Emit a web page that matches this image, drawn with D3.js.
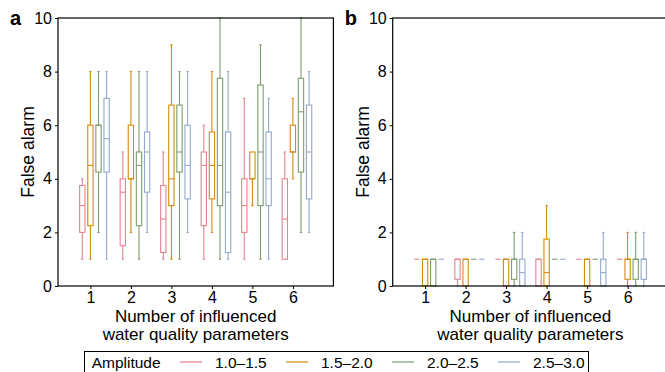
<!DOCTYPE html>
<html><head><meta charset="utf-8">
<script src="https://cdn.jsdelivr.net/npm/d3@7"></script>
<style>body{margin:0;background:#fff}svg{display:block;font-family:"Liberation Sans",Arial,sans-serif}</style>
</head><body>
<script>
// Categories and series
const categories = [1, 2, 3, 4, 5, 6];
const amplitudes = ["1.0–1.5", "1.5–2.0", "2.0–2.5", "2.5–3.0"];
const colors = ["#e3848f", "#d18b12", "#7d9c6b", "#92a9cb"];
const yTicks = [0, 2, 4, 6, 8, 10];
// Box stats per category: [whiskerLow, q1, median, q3, whiskerHigh]
// Panel a
const a_amp1 = [[1,2,3,3.75,4],[1,1.5,3.5,4,5],[1,1.25,2.5,3.75,5],[1,2.25,4.5,5,6],[1,2,3,4,7],[1,1,2.5,4,5]];
const a_amp2 = [[1,2.25,4.5,6,8],[2,4,4,6,8],[1,3,4,6.75,9],[2,3.25,4.5,5.75,8],[3,4,4,5,5],[4,5,5,6,7]];
const a_amp3 = [[2,4.25,6,6,8],[1,2.25,4.5,5,8],[1,4.25,5,6.75,8],[1,3,4.5,7.75,10],[1,3,5,7.5,9],[2,4.25,6.5,7.75,10]];
const a_amp4 = [[1,4.25,5.5,7,8],[2,3.5,5,5.75,8],[2,3.25,4.5,6,8],[1,1.25,3.5,5.75,8],[1,3,4,5.75,7],[2,3.25,5,6.75,8]];
// Panel b
const b_amp1 = [[1,1,1,1,1],[0,0.25,1,1,1],[1,1,1,1,1],[0,0,1,1,1],[1,1,1,1,1],[1,1,1,1,1]];
const b_amp2 = [[0,0,1,1,1],[0,0,1,1,1],[0,0,1,1,1],[0,0,0.5,1.75,3],[0,0,1,1,1],[0,0.25,1,1,2]];
const b_amp3 = [[0,0,1,1,1],[1,1,1,1,1],[0,0.25,1,1,2],[1,1,1,1,1],[1,1,1,1,1],[0,0.25,1,1,2]];
const b_amp4 = [[1,1,1,1,1],[1,1,1,1,1],[0,0,0.5,1,2],[1,1,1,1,1],[0,0,0.5,1,2],[0,0.25,1,1,2]];
const hueOffsets = [-0.2, 0, 0.2, 0.4];

const W = 665, H = 372;
const svg = d3.select("body").append("svg").attr("width", W).attr("height", H);

const y = d3.scaleLinear().domain([0, 10]).range([286, 18]);

function panel(left, series, letter) {
  const x = d3.scaleLinear().domain([0.2, 7.0]).range([left, left + 275.4]);
  const g = svg.append("g");
  const bw = 5.3;
  series.forEach((s, si) => {
    s.forEach((d, ci) => {
      const cx = x(categories[ci] + hueOffsets[si]);
      const col = colors[si];
      const [lo, q1, med, q3, hi] = d;
      const gg = g.append("g").attr("stroke", col).attr("stroke-width", 1.1).attr("fill", "none");
      if (hi > q3) {
        gg.append("line").attr("x1", cx).attr("x2", cx).attr("y1", y(q3)).attr("y2", y(hi));
        gg.append("line").attr("x1", cx - 1.2).attr("x2", cx + 1.2).attr("y1", y(hi)).attr("y2", y(hi));
      }
      if (lo < q1) {
        gg.append("line").attr("x1", cx).attr("x2", cx).attr("y1", y(q1)).attr("y2", y(lo));
        gg.append("line").attr("x1", cx - 1.2).attr("x2", cx + 1.2).attr("y1", y(lo)).attr("y2", y(lo));
      }
      gg.append("rect").attr("x", cx - bw / 2).attr("y", y(q3)).attr("width", bw)
        .attr("height", Math.max(0, y(q1) - y(q3))).attr("fill", q3 > q1 ? "#fff" : "none");
      gg.append("line").attr("x1", cx - bw / 2).attr("x2", cx + bw / 2).attr("y1", y(med)).attr("y2", y(med));
    });
  });
  // frame
  const right = left + 275.4;
  g.append("rect").attr("x", left).attr("y", 18).attr("width", right - left).attr("height", 268)
    .attr("fill", "none").attr("stroke", "#000").attr("stroke-width", 1.2);
  const ya = g.append("g").attr("transform", `translate(${left},0)`)
    .call(d3.axisLeft(y).tickValues(yTicks).tickSize(3).tickPadding(3));
  ya.select(".domain").remove();
  ya.selectAll("text").attr("font-size", 16).attr("fill", "#000").attr("font-family", "Liberation Sans, Arial, sans-serif");
  const xa = g.append("g").attr("transform", "translate(0,286)")
    .call(d3.axisBottom(x).tickValues(categories).tickFormat(d3.format("d")).tickSize(3).tickPadding(3));
  xa.select(".domain").remove();
  xa.selectAll("text").attr("font-size", 16).attr("fill", "#000").attr("font-family", "Liberation Sans, Arial, sans-serif");
  // titles
  g.append("text").attr("transform", `translate(${left - 30},152) rotate(-90)`).attr("text-anchor", "middle")
    .attr("dominant-baseline", "central").attr("font-size", 17.5).text("False alarm");
  const cx = (left + right) / 2;
  g.append("text").attr("x", cx).attr("y", 322).attr("text-anchor", "middle").attr("font-size", 17).text("Number of influenced");
  g.append("text").attr("x", cx).attr("y", 339.5).attr("text-anchor", "middle").attr("font-size", 17).text("water quality parameters");
  g.append("text").attr("x", left - 48).attr("y", 25).attr("font-size", 20).attr("font-weight", "bold").text(letter);
}

panel(58, [a_amp1, a_amp2, a_amp3, a_amp4], "a");
panel(392.7, [b_amp1, b_amp2, b_amp3, b_amp4], "b");

// legend
const lg = svg.append("g");
lg.append("rect").attr("x", 84.5).attr("y", 351.5).attr("width", 504).attr("height", 30)
  .attr("fill", "none").attr("stroke", "#000").attr("stroke-width", 1);
lg.append("text").attr("x", 91.7).attr("y", 367.5).attr("font-size", 15.5).text("Amplitude");
amplitudes.forEach((a, i) => {
  const x0 = 180 + i * 106;
  lg.append("line").attr("x1", x0).attr("x2", x0 + 22).attr("y1", 362).attr("y2", 362)
    .attr("stroke", colors[i]).attr("stroke-width", 1.2);
  lg.append("text").attr("x", x0 + 35).attr("y", 367.5).attr("font-size", 15.5).text(a);
});
</script>
</body></html>
